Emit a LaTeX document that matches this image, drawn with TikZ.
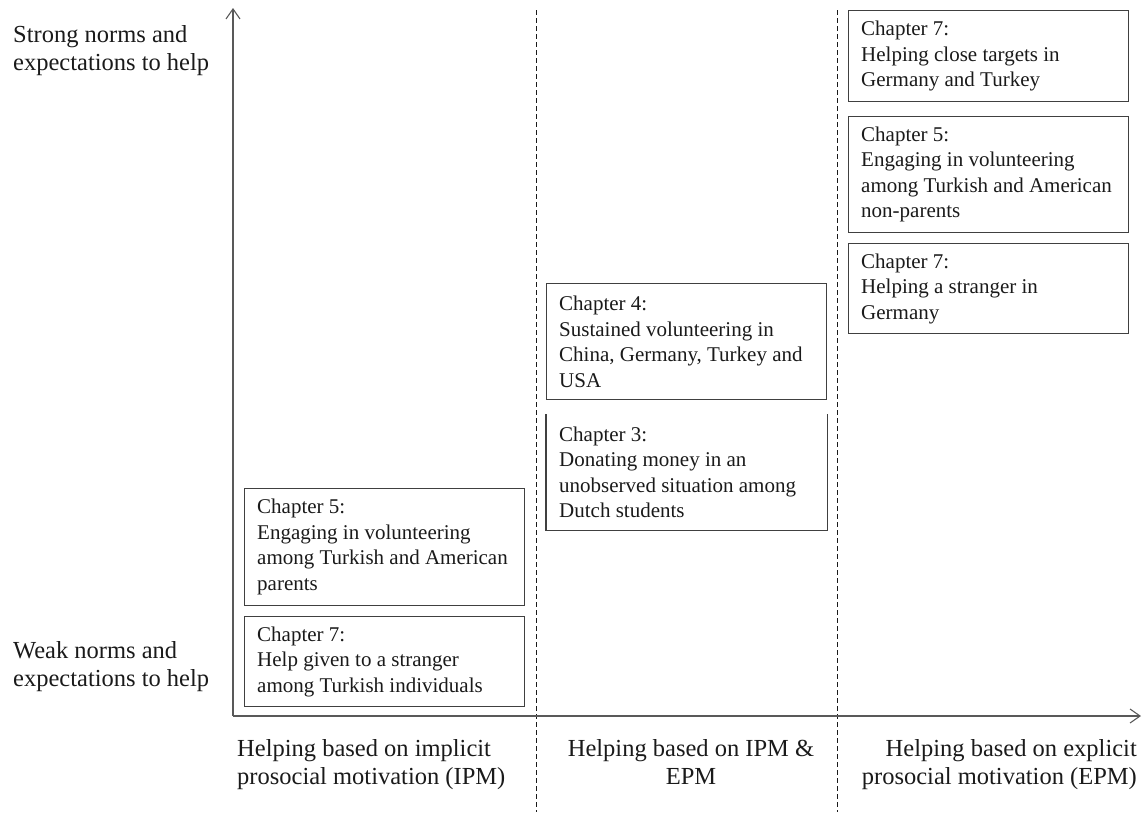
\documentclass[tikz,border=0pt]{standalone}
\usepackage{fontspec}
\setmainfont{Liberation Serif}
\usetikzlibrary{arrows.meta}
\definecolor{linegray}{HTML}{404040}
\definecolor{axisgray}{HTML}{595959}
\definecolor{txt}{HTML}{1A1A1A}
\begin{document}
\begin{tikzpicture}[x=1pt,y=-1pt,
  chapbox/.style={draw=linegray,line width=1.2pt,minimum width=280pt,anchor=north west,inner sep=0pt},
  chaptext/.style={anchor=west,align=left,inner sep=0pt,text=txt,font=\fontsize{21}{25.5}\selectfont},
  label/.style={inner sep=0pt,text=txt,font=\fontsize{24.5}{28.5}\selectfont},
  axisline/.style={draw=axisgray,line width=1.2pt,-{Straight Barb[length=10pt,width=14pt,line width=1.1pt]}},
  divider/.style={draw=txt,line width=0.9pt,dash pattern=on 5pt off 3pt}
]
\path[use as bounding box] (0,0) rectangle (1143,812);

% axes and dividers
\coordinate (origin) at (233,716);
\coordinate (ytip) at (233,8);
\coordinate (xtip) at (1141,716);
\coordinate (d1top) at (536,10);
\coordinate (d1bot) at (536,812);
\coordinate (d2top) at (837,10);
\coordinate (d2bot) at (837,812);
\draw[divider] (d1top) -- (d1bot);
\draw[divider] (d2top) -- (d2bot);
\draw[axisline] (origin) -- (ytip);
\draw[axisline] (origin) -- (xtip);

% right column
\node[chapbox,minimum height=91pt] (r1) at (848,10) {};
\node[chaptext] (r1t) at ([xshift=13pt]r1.west) {Chapter 7:\\Helping close targets in\\Germany and Turkey};
\node[chapbox,minimum height=116pt] (r2) at (848,116) {};
\node[chaptext] (r2t) at ([xshift=13pt]r2.west) {Chapter 5:\\Engaging in volunteering\\among Turkish and American\\non-parents};
\node[chapbox,minimum height=90pt] (r3) at (848,243) {};
\node[chaptext] (r3t) at ([xshift=13pt]r3.west) {Chapter 7:\\Helping a stranger in\\Germany};

% middle column
\node[chapbox,minimum height=116pt] (m1) at (546,283) {};
\node[chaptext] (m1t) at ([xshift=13pt]m1.west) {Chapter 4:\\Sustained volunteering in\\China, Germany, Turkey and\\USA};
\node[chapbox,draw=none,minimum height=115pt] (m2) at (546,414) {};
\draw[linegray,line width=1.2pt] (m2.north west) -- (m2.south west) -- (m2.south east) -- (m2.north east);
\node[chaptext] (m2t) at ([xshift=13pt]m2.west) {Chapter 3:\\Donating money in an\\unobserved situation among\\Dutch students};

% left column
\node[chapbox,minimum height=117pt] (l1) at (244,488) {};
\node[chaptext] (l1t) at ([xshift=13pt]l1.west) {Chapter 5:\\Engaging in volunteering\\among Turkish and American\\parents};
\node[chapbox,minimum height=90pt] (l2) at (244,616) {};
\node[chaptext] (l2t) at ([xshift=13pt]l2.west) {Chapter 7:\\Help given to a stranger\\among Turkish individuals};

% axis labels
\node[label,anchor=north west,align=left] (strong) at (13,25) {Strong norms and\\expectations to help};
\node[label,anchor=north west,align=left] (weak) at (13,641) {Weak norms and\\expectations to help};
\node[label,anchor=north west,align=left] (ipm) at (237,739) {Helping based on implicit\\prosocial motivation (IPM)};
\node[label,anchor=north,align=center] (both) at (691,739) {Helping based on IPM \&\\EPM};
\node[label,anchor=north east,align=right] (epm) at (1137,739) {Helping based on explicit\\prosocial motivation (EPM)};
\end{tikzpicture}
\end{document}
